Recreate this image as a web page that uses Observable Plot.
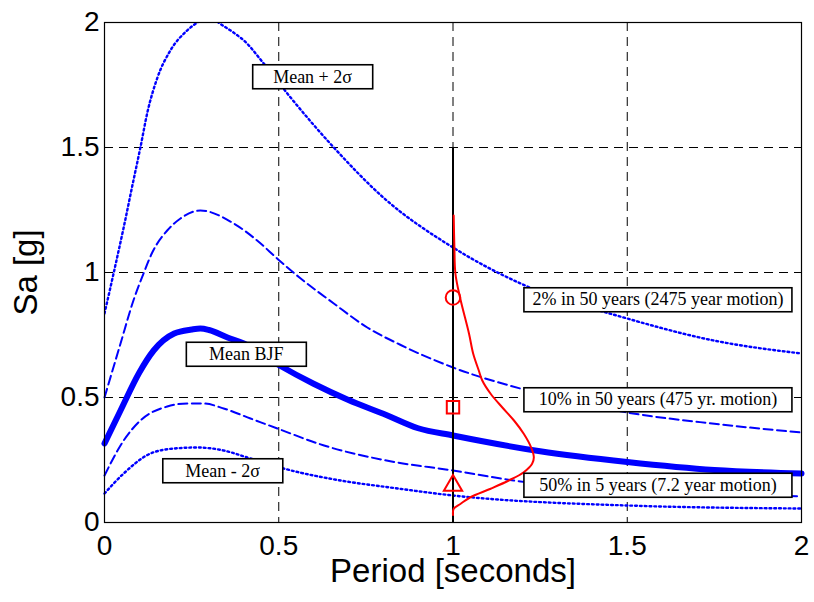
<!DOCTYPE html>
<html>
<head>
<meta charset="utf-8">
<script src="https://cdn.jsdelivr.net/npm/d3@7"></script>
<script src="https://cdn.jsdelivr.net/npm/@observablehq/plot@0.6"></script>
<style>
  html, body { margin: 0; padding: 0; background: white; }
</style>
</head>
<body>
<script>
// ---- data ----
const xTicks = [0, 0.5, 1, 1.5, 2];
const yTicks = [0, 0.5, 1, 1.5, 2];
const gridVals = [0.5, 1, 1.5];
const xLabel = "Period [seconds]";
const yLabel = "Sa [g]";

const meanT  = [0, 0.046, 0.1, 0.141, 0.2, 0.25, 0.275, 0.3, 0.353, 0.4, 0.5, 0.6, 0.7, 0.8, 0.9, 1.0, 1.25, 1.5, 1.75, 2.0];
const meanSa = [0.316, 0.448, 0.60, 0.688, 0.756, 0.772, 0.776, 0.77, 0.74, 0.716, 0.63, 0.555, 0.49, 0.435, 0.377, 0.348, 0.285, 0.242, 0.21, 0.196];

const plus1T  = [0, 0.046, 0.083, 0.112, 0.137, 0.18, 0.218, 0.275, 0.371, 0.438, 0.5, 0.563, 0.658, 0.754, 0.85, 1.0, 1.214, 1.5, 1.75, 2.0];
const plus1Sa = [0.50, 0.716, 0.888, 0.996, 1.08, 1.168, 1.216, 1.248, 1.196, 1.128, 1.05, 0.976, 0.876, 0.78, 0.71, 0.62, 0.528, 0.44, 0.395, 0.36];

const plus2T  = [0, 0.026, 0.055, 0.083, 0.103, 0.123, 0.152, 0.189, 0.237, 0.266, 0.3, 0.327, 0.37, 0.40, 0.457, 0.534, 0.658, 0.8, 1.0, 1.194, 1.5, 1.748, 2.0];
const plus2Sa = [0.836, 0.996, 1.18, 1.368, 1.5, 1.64, 1.78, 1.888, 1.968, 2.0, 2.03, 2.0, 1.96, 1.928, 1.836, 1.70, 1.5, 1.30, 1.10, 0.956, 0.816, 0.728, 0.676];

const minus1T  = [0, 0.055, 0.103, 0.18, 0.238, 0.284, 0.342, 0.419, 0.496, 0.63, 0.82, 1.0, 1.174, 1.5, 2.0];
const minus1Sa = [0.188, 0.328, 0.408, 0.464, 0.476, 0.476, 0.456, 0.416, 0.376, 0.308, 0.245, 0.208, 0.168, 0.125, 0.105];

const minus2T  = [0, 0.055, 0.132, 0.2, 0.266, 0.342, 0.41, 0.514, 0.677, 0.82, 1.0, 1.5, 2.0];
const minus2Sa = [0.116, 0.196, 0.276, 0.296, 0.30, 0.288, 0.26, 0.216, 0.168, 0.14, 0.108, 0.068, 0.056];

// lognormal density of Sa at T = 1 s, drawn sideways
const pdfT  = [1.002, 1.004, 1.007, 1.020, 1.046, 1.058, 1.074, 1.084, 1.108, 1.141, 1.175, 1.203, 1.224, 1.232, 1.227, 1.203, 1.160, 1.108, 1.050, 1.022, 1.002, 1.0];
const pdfSa = [1.228, 1.101, 0.995, 0.901, 0.755, 0.675, 0.608, 0.568, 0.515, 0.461, 0.408, 0.355, 0.301, 0.261, 0.235, 0.201, 0.168, 0.135, 0.101, 0.075, 0.055, 0.03];

const sliceT = 1;
const sliceTop = 1.5;

const hazardNames = ["2% in 50 years", "10% in 50 years", "50% in 5 years"];
const hazardSa = [0.90, 0.461, 0.148];

const curveLabels = ["Mean + 2σ", "Mean BJF", "Mean - 2σ"];
const curveLabelT = [0.597, 0.407, 0.339];
const curveLabelSa = [1.782, 0.672, 0.206];

const eventLabels = ["2% in 50 years (2475 year motion)", "10% in 50 years (475 yr. motion)", "50% in 5 years (7.2 year motion)"];
const eventLabelT = [1.588, 1.588, 1.588];
const eventLabelSa = [0.892, 0.492, 0.15];

// ---- build tables ----
const pts = (T, S) => T.map((t, i) => ({T: t, Sa: S[i]}));
const hazards = hazardNames.map((n, i) => ({name: n, T: sliceT, Sa: hazardSa[i]}));
const curveLab = curveLabels.map((s, i) => ({s, T: curveLabelT[i], Sa: curveLabelSa[i]}));
const eventLab = eventLabels.map((s, i) => ({s, T: eventLabelT[i], Sa: eventLabelSa[i]}));

const blue = "#0000ff";
const red = "#ff0000";
const serif = "'Liberation Serif', 'Times New Roman', serif";

const chart = Plot.plot({
  width: 814,
  height: 602,
  marginLeft: 104,
  marginRight: 13,
  marginTop: 22,
  marginBottom: 80,
  x: {domain: [0, 2]},
  y: {domain: [0, 2]},
  style: {fontFamily: "'Liberation Sans', Arial, sans-serif", background: "white", color: "black", overflow: "visible"},
  marks: [
    Plot.gridX(gridVals, {stroke: "black", strokeOpacity: 1, strokeWidth: 1, strokeDasharray: "9,6"}),
    Plot.gridY(gridVals, {stroke: "black", strokeOpacity: 1, strokeWidth: 1, strokeDasharray: "9,6"}),
    Plot.line(pts(plus2T, plus2Sa), {x: "T", y: "Sa", curve: "monotone-x", stroke: blue, strokeWidth: 2.4, strokeDasharray: "1.8,3", clip: true}),
    Plot.line(pts(minus2T, minus2Sa), {x: "T", y: "Sa", curve: "monotone-x", stroke: blue, strokeWidth: 2.4, strokeDasharray: "1.8,3"}),
    Plot.line(pts(plus1T, plus1Sa), {x: "T", y: "Sa", curve: "monotone-x", stroke: blue, strokeWidth: 2, strokeDasharray: "9,4.5"}),
    Plot.line(pts(minus1T, minus1Sa), {x: "T", y: "Sa", curve: "monotone-x", stroke: blue, strokeWidth: 2, strokeDasharray: "9,4.5"}),
    Plot.line(pts(meanT, meanSa), {x: "T", y: "Sa", curve: "monotone-x", stroke: blue, strokeWidth: 6, strokeLinejoin: "round"}),
    Plot.ruleX([sliceT], {y1: 0, y2: sliceTop, stroke: "black", strokeWidth: 2}),
    Plot.line(pts(pdfT, pdfSa), {x: "T", y: "Sa", curve: "catmull-rom", stroke: red, strokeWidth: 2}),
    Plot.dot(hazards.filter((d, i) => i === 0), {x: "T", y: "Sa", symbol: "circle", r: 7.3, stroke: red, strokeWidth: 2, fill: "none"}),
    Plot.dot(hazards.filter((d, i) => i === 1), {x: "T", y: "Sa", symbol: "square", r: 7, stroke: red, strokeWidth: 2, fill: "none"}),
    Plot.dot(hazards.filter((d, i) => i === 2), {x: "T", y: "Sa", symbol: "triangle", r: 6.8, stroke: red, strokeWidth: 2, fill: "none"}),
    Plot.frame({stroke: "black", strokeWidth: 1.2}),
    Plot.axisX(xTicks, {tickSize: 0, tickPadding: 13, fontSize: 28, label: null, tickFormat: d => String(d)}),
    Plot.axisY(yTicks, {tickSize: 0, tickPadding: 5, fontSize: 28, label: null, tickFormat: d => String(d)}),
    Plot.text([xLabel], {frameAnchor: "bottom", lineAnchor: "middle", dy: 49, fontSize: 33, textAnchor: "middle"}),
    Plot.text([yLabel], {frameAnchor: "left", lineAnchor: "middle", dx: -78, rotate: -90, fontSize: 33, textAnchor: "middle"}),
    Plot.text(curveLab, {x: "T", y: "Sa", text: "s", fontFamily: serif, fontSize: 18, fill: "black", ariaDescription: "boxw120"}),
    Plot.text(eventLab, {x: "T", y: "Sa", text: "s", fontFamily: serif, fontSize: 18, fill: "black", ariaDescription: "boxw268"})
  ]
});

document.body.append(chart);

// white label boxes with black borders behind the annotation texts
const ns = "http://www.w3.org/2000/svg";
chart.querySelectorAll("g[aria-description^='boxw']").forEach(g => {
  const W = +g.getAttribute("aria-description").slice(4);
  const H = 24;
  g.querySelectorAll("text").forEach(t => {
    const b = t.getBBox();
    const r = document.createElementNS(ns, "rect");
    r.setAttribute("x", b.x + b.width / 2 - W / 2);
    r.setAttribute("y", b.y + b.height / 2 - H / 2);
    r.setAttribute("width", W);
    r.setAttribute("height", H);
    r.setAttribute("fill", "white");
    r.setAttribute("stroke", "black");
    r.setAttribute("stroke-width", 1.6);
    const tr = t.getAttribute("transform");
    if (tr) r.setAttribute("transform", tr);
    g.insertBefore(r, t);
  });
});
</script>
</body>
</html>
